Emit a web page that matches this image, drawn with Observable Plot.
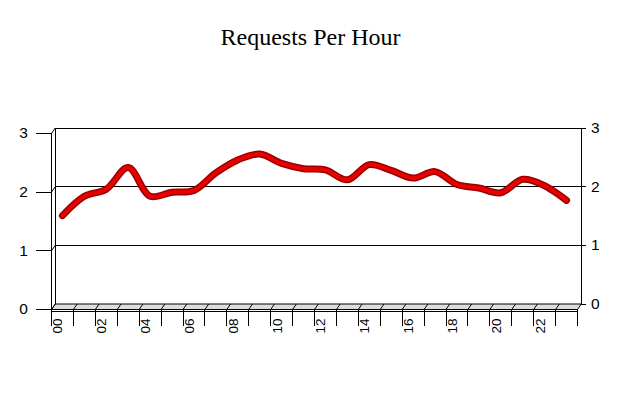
<!DOCTYPE html>
<html>
<head>
<meta charset="utf-8">
<script src="https://cdn.jsdelivr.net/npm/d3@7"></script>
<script src="https://cdn.jsdelivr.net/npm/@observablehq/plot@0.6"></script>
<style>
  html, body { margin: 0; padding: 0; background: #fff; }
  #chart svg { display: block; background: #fff; }
</style>
</head>
<body>
<div id="chart"></div>
<script>
// ---- data ----
const title = "Requests Per Hour";
const hourLabels = ["00","01","02","03","04","05","06","07","08","09","10","11",
                    "12","13","14","15","16","17","18","19","20","21","22","23"];
const requests = [1.60, 1.93, 2.05, 2.42, 1.93, 2.00, 2.03, 2.33, 2.55, 2.65, 2.49, 2.40,
                  2.38, 2.21, 2.47, 2.37, 2.24, 2.35, 2.13, 2.07, 1.99, 2.22, 2.11, 1.86];
const yTicks = [0, 1, 2, 3];

// ---- geometry of the pseudo-3D frame ----
const W = 620, H = 400;
const xDomain = [-0.5, hourLabels.length - 0.5];
const yDomain = [0, 3];
const xRange = [51, 577];
const yRange = [309, 133];
const PX = (xRange[1] - xRange[0]) / (xDomain[1] - xDomain[0]); // px per x unit
const PY = (yRange[0] - yRange[1]) / (yDomain[1] - yDomain[0]); // px per y unit
const depthX = 3.75, depthY = 5.5;          // pixel depth of the 3D wall
const ox = depthX / PX, oy = depthY / PY;    // same depth in data units
const [x0, x1] = xDomain;

const data = requests.map((v, i) => ({i, v, label: hourLabels[i]}));
const boundaries = d3.range(hourLabels.length + 1).map(k => k - 0.5);
const inner = boundaries.slice(1, -1);

const floor = [
  {x: x0, y: 0}, {x: x1, y: 0}, {x: x1 + ox, y: oy}, {x: x0 + ox, y: oy}, {x: x0, y: 0}
];

const sans = "'Liberation Sans', Arial, sans-serif";
const crisp = {stroke: "black", strokeWidth: 1, shapeRendering: "crispEdges"};

const chart = Plot.plot({
  width: W,
  height: H,
  margin: 0,
  style: {background: "#fff", overflow: "visible"},
  x: {domain: xDomain, range: xRange, axis: null},
  y: {domain: yDomain, range: yRange, axis: null},
  marks: [
    // floor
    Plot.line(floor, {x: "x", y: "y", fill: "#dcdcdc", stroke: "black", strokeWidth: 1, curve: "linear"}),
    Plot.link(inner, {x1: d => d, y1: 0, x2: d => d + ox, y2: oy, stroke: "black", strokeWidth: 1}),
    // back wall gridlines
    Plot.link(yTicks.filter(v => v > 0), {x1: x0 + ox, x2: x1 + ox, y1: v => v + oy, y2: v => v + oy, ...crisp}),
    // back wall verticals
    Plot.link([x0 + ox, x1 + ox], {x1: d => d, x2: d => d, y1: oy, y2: yDomain[1] + oy, ...crisp}),
    // left slants from front axis to back wall
    Plot.link(yTicks, {x1: x0, y1: v => v, x2: x0 + ox, y2: v => v + oy, stroke: "black", strokeWidth: 1}),
    // front left axis
    Plot.link([x0], {x1: d => d, x2: d => d, y1: 0, y2: yDomain[1], ...crisp}),
    // left ticks
    Plot.link(yTicks, {x1: x0 - 16 / PX, x2: x0, y1: v => v, y2: v => v, ...crisp}),
    // right ticks
    Plot.link(yTicks, {x1: x1 + ox, x2: x1 + ox + 5 / PX, y1: v => v + oy, y2: v => v + oy, ...crisp}),
    // front bottom edge (double line)
    Plot.link([0, -1.6 / PY], {x1: x0, x2: x1, y1: d => d, y2: d => d, ...crisp}),
    // bottom category ticks
    Plot.link(boundaries, {x1: d => d, x2: d => d, y1: 0, y2: -16 / PY, ...crisp}),
    // left labels
    Plot.text(yTicks, {x: x0, y: v => v, text: v => String(v), dx: -28, textAnchor: "middle",
      fontFamily: sans, fontSize: 15.5, fill: "black"}),
    // right labels
    Plot.text(yTicks, {x: x1 + ox, y: v => v + oy, text: v => String(v), dx: 14, textAnchor: "middle",
      fontFamily: sans, fontSize: 15.5, fill: "black"}),
    // x labels (every other hour)
    Plot.text(data.filter(d => d.i % 2 === 0), {x: d => d.i - 0.5 + 0.3, y: 0, text: "label",
      rotate: -90, textAnchor: "end", lineAnchor: "middle", dy: 9,
      fontFamily: sans, fontSize: 13.5, fill: "black"}),
    // the series line (dark outline + red core)
    Plot.line(data, {x: "i", y: "v", curve: "catmull-rom", stroke: "#9a0000", strokeWidth: 7}),
    Plot.line(data, {x: "i", y: "v", curve: "catmull-rom", stroke: "#e60000", strokeWidth: 4}),
    // title
    Plot.text([title], {frameAnchor: "top", dy: 37, lineAnchor: "middle", text: d => d,
      fontFamily: "'Liberation Serif', 'Times New Roman', serif", fontSize: 24, fill: "black"})
  ]
});

document.getElementById("chart").appendChild(chart);
</script>
</body>
</html>
